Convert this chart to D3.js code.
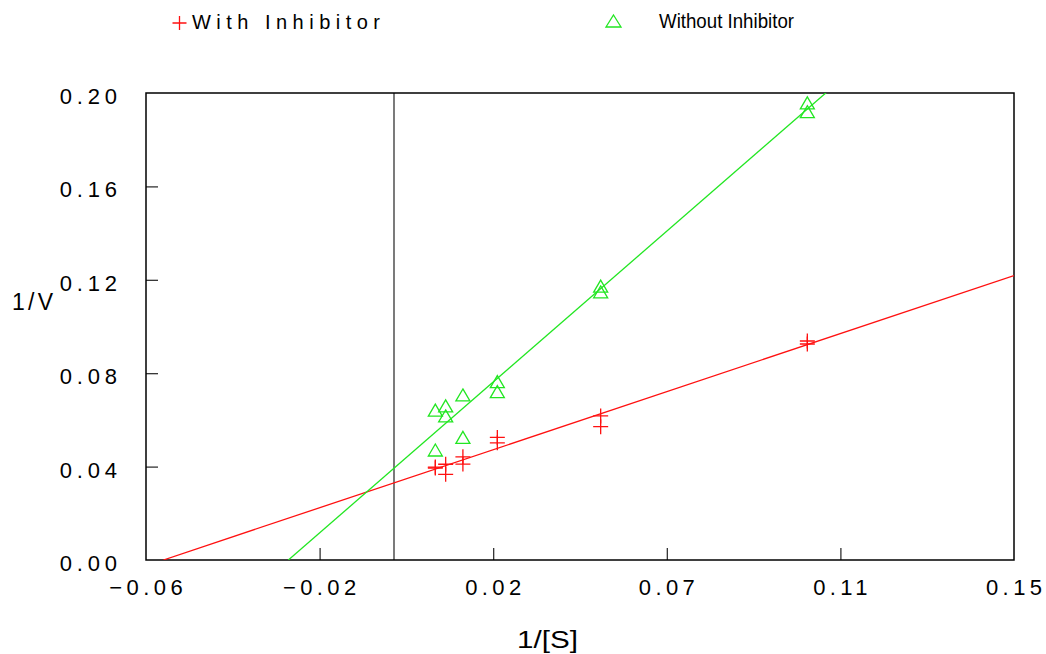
<!DOCTYPE html>
<html><head><meta charset="utf-8">
<script src="https://cdn.jsdelivr.net/npm/d3@7"></script>
<style>
body{margin:0;background:#fff}
svg{display:block}
text{font-family:"Liberation Sans",Arial,sans-serif;fill:#000}
</style>
</head><body>
<svg id="chart" width="1046" height="654"></svg>
<script>
// ---- data ----
const substrateInv = [0.01, 0.01, 0.0125, 0.0125, 0.01667, 0.01667, 0.025, 0.025, 0.05, 0.05, 0.1, 0.1];
const withInhibitor = [0.0398, 0.0394, 0.0410, 0.0367, 0.0442, 0.0411, 0.0525, 0.0502, 0.0617, 0.0571, 0.0938, 0.0925];
const withoutInhibitor = [0.0642, 0.0471, 0.0660, 0.0617, 0.0707, 0.0525, 0.0764, 0.0721, 0.1173, 0.1148, 0.1958, 0.1920];
const xTicks = [-0.06, -0.018, 0.024, 0.066, 0.108, 0.15];
const yTicks = [0, 0.04, 0.08, 0.12, 0.16, 0.20];
const seriesNames = ["With Inhibitor", "Without Inhibitor"];
const xTitle = "1/[S]";
const yTitle = "1/V";

// ---- layout ----
const svg = d3.select("#chart");
const L = 146, R = 1014, T = 93, B = 560;
const x = d3.scaleLinear().domain([-0.06, 0.15]).range([L, R]);
const y = d3.scaleLinear().domain([0, 0.2]).range([B, T]);
const RED = "#ff1010", GREEN = "#22e622";
const fmt = d3.format(".2f");

function spaced(sel, gap) {
  sel.each(function () {
    const n = this.textContent.length;
    const w = this.getComputedTextLength();
    d3.select(this).attr("textLength", w + (n - 1) * gap).attr("lengthAdjust", "spacing");
  });
}

// clip
svg.append("clipPath").attr("id", "clip").append("rect")
  .attr("x", L).attr("y", T).attr("width", R - L).attr("height", B - T);

// zero line
svg.append("line").attr("x1", x(0)).attr("x2", x(0)).attr("y1", T).attr("y2", B)
  .attr("stroke", "#333").attr("stroke-width", 1.3);

// axes with inner ticks
const xAxis = d3.axisBottom(x).tickValues(xTicks.slice(1, -1)).tickSize(-12).tickFormat("");
const gx = svg.append("g").attr("transform", `translate(0,${B})`).call(xAxis);
gx.select(".domain").remove();
gx.selectAll("line").attr("stroke", "#222").attr("stroke-width", 1.2);

const yAxis = d3.axisLeft(y).tickValues(yTicks.slice(1, -1)).tickSize(-12).tickFormat("");
const gy = svg.append("g").attr("transform", `translate(${L},0)`).call(yAxis);
gy.select(".domain").remove();
gy.selectAll("line").attr("stroke", "#222").attr("stroke-width", 1.2);

// tick labels
svg.append("g").selectAll("text").data(xTicks).join("text")
  .attr("x", d => x(d)).attr("y", B + 35).attr("text-anchor", "middle")
  .attr("font-size", 22).text(d => fmt(d)).call(spaced, 4.4);
svg.append("g").selectAll("text").data(yTicks).join("text")
  .attr("x", L - 29).attr("y", d => y(d) + 11).attr("text-anchor", "end")
  .attr("font-size", 22).text(d => fmt(d)).call(spaced, 4.8);

// frame
svg.append("rect").attr("x", L).attr("y", T).attr("width", R - L).attr("height", B - T)
  .attr("fill", "none").attr("stroke", "#000").attr("stroke-width", 1.5);

// regression lines
function fit(xs, ys) {
  const mx = d3.mean(xs), my = d3.mean(ys);
  let sxy = 0, sxx = 0;
  xs.forEach((v, i) => { sxy += (v - mx) * (ys[i] - my); sxx += (v - mx) * (v - mx); });
  const m = sxy / sxx;
  return { m, b: my - m * mx };
}
const series = [
  { name: seriesNames[0], vals: withInhibitor, color: RED, shape: "cross" },
  { name: seriesNames[1], vals: withoutInhibitor, color: GREEN, shape: "tri" }
];
const line = d3.line().x(d => x(d[0])).y(d => y(d[1]));
series.forEach(s => {
  const f = fit(substrateInv, s.vals);
  const x0 = -f.b / f.m, x1 = 0.15;
  svg.append("path").attr("clip-path", "url(#clip)")
    .attr("d", line([[x0, 0], [x1, f.m * x1 + f.b]]))
    .attr("fill", "none").attr("stroke", s.color).attr("stroke-width", 1.3);
});

// markers
const crossPath = (cx, cy, r) => `M${cx - r},${cy}H${cx + r}M${cx},${cy - r}V${cy + r}`;
const triPath = (cx, cy, w, h) => `M${cx},${cy - h / 2}L${cx + w / 2},${cy + h / 2}L${cx - w / 2},${cy + h / 2}Z`;
series.forEach(s => {
  svg.append("g").selectAll("path").data(s.vals).join("path")
    .attr("d", (d, i) => s.shape === "cross"
      ? crossPath(x(substrateInv[i]), y(d), 7.5)
      : triPath(x(substrateInv[i]), y(d), 14, 12))
    .attr("fill", "none").attr("stroke", s.color).attr("stroke-width", 1.3);
});

// legend
svg.append("path").attr("d", crossPath(179.5, 23, 7)).attr("stroke", RED).attr("stroke-width", 1.3).attr("fill", "none");
svg.append("text").attr("x", 192).attr("y", 29).attr("font-size", 20)
  .attr("textLength", 188).attr("lengthAdjust", "spacing").text(seriesNames[0]);
svg.append("path").attr("d", triPath(613.5, 21, 15, 12)).attr("stroke", GREEN).attr("stroke-width", 1.3).attr("fill", "none");
svg.append("text").attr("x", 659).attr("y", 28).attr("font-size", 21)
  .attr("textLength", 135).attr("lengthAdjust", "spacingAndGlyphs").text(seriesNames[1]);

// axis titles
svg.append("text").attr("x", 12).attr("y", 310).attr("font-size", 23)
  .attr("textLength", 41).attr("lengthAdjust", "spacing").text(yTitle);
svg.append("text").attr("x", 517).attr("y", 648).attr("font-size", 23)
  .attr("textLength", 61).attr("lengthAdjust", "spacingAndGlyphs").text(xTitle);
</script>
</body></html>
